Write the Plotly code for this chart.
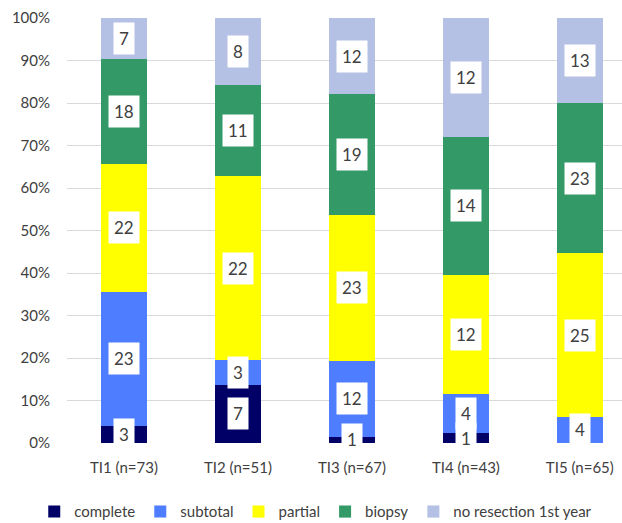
import plotly.graph_objects as go

categories = ["TI1 (n=73)", "TI2 (n=51)", "TI3 (n=67)", "TI4 (n=43)", "TI5 (n=65)"]
series_names = ["complete", "subtotal", "partial", "biopsy", "no resection 1st year"]
complete = [3, 7, 1, 1, 0]
subtotal = [23, 3, 12, 4, 4]
partial = [22, 22, 23, 12, 25]
biopsy = [18, 11, 19, 14, 23]
no_resection = [7, 8, 12, 12, 13]
colors = ["#000066", "#4F7DFF", "#FFFF00", "#339966", "#B4C0E4"]
y_ticks = [0, 10, 20, 30, 40, 50, 60, 70, 80, 90, 100]
y_tick_labels = ["0%", "10%", "20%", "30%", "40%", "50%", "60%", "70%", "80%", "90%", "100%"]

series = [complete, subtotal, partial, biopsy, no_resection]
totals = [sum(v) for v in zip(*series)]

fig = go.Figure()
for name, vals, col in zip(series_names, series, colors):
    fig.add_trace(go.Bar(
        x=categories, y=vals, name=name, marker=dict(color=col, line=dict(width=0)),
        hoverinfo="skip"))

annotations = []
for ci, cat in enumerate(categories):
    cum = 0.0
    for vals in series:
        v = vals[ci]
        pct = v / totals[ci] * 100
        if v > 0:
            annotations.append(dict(
                x=cat, y=cum + pct / 2, xref="x", yref="y", text=str(v),
                showarrow=False, bgcolor="white", borderpad=5,
                font=dict(family="Lato, sans-serif", size=17, color="#404040")))
        cum += pct

fig.update_layout(
    barmode="stack", barnorm="percent", bargap=0.6,
    width=622, height=523,
    margin=dict(l=67, r=0, t=18, b=80, autoexpand=False),
    paper_bgcolor="white", plot_bgcolor="white",
    font=dict(family="Lato, sans-serif", size=15, color="#404040"),
    annotations=annotations,
    legend=dict(orientation="h", xref="paper", yref="paper",
                x=-0.059, xanchor="left", y=-0.162, yanchor="middle",
                font=dict(size=15, color="#404040"), traceorder="normal",
                itemwidth=30, tracegroupgap=0),
    xaxis=dict(range=[-0.5, 4.37], showgrid=False, showline=False, ticks="",
               ticklabelstandoff=14, automargin=False,
               tickfont=dict(size=15, color="#404040")),
    yaxis=dict(range=[0, 100], tickmode="array", tickvals=y_ticks, ticktext=y_tick_labels,
               showgrid=True, gridcolor="#D9D9D9", gridwidth=1, zeroline=False, showline=False,
               ticks="", ticklabelstandoff=16, automargin=False,
               tickfont=dict(size=15, color="#404040")),
)

fig.write_html("out.html")
